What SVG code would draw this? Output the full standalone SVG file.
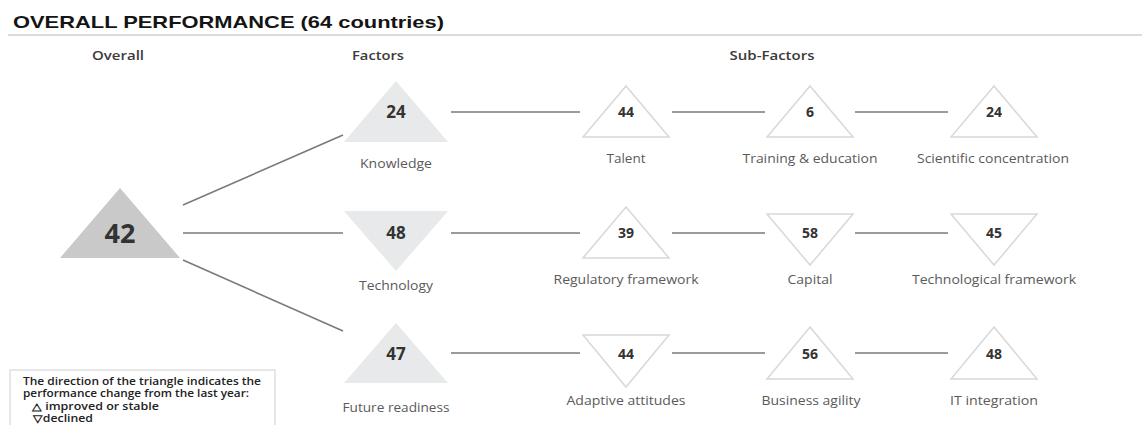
<svg xmlns="http://www.w3.org/2000/svg" width="1142" height="425" viewBox="0 0 1142 425">
<style>
.title{font-family:"Liberation Sans",Arial,sans-serif;font-weight:bold;font-size:17px;fill:#141414}
.hdr{font-family:"Open Sans","Liberation Sans",sans-serif;font-weight:600;font-size:12.5px;fill:#3a3a3a;text-anchor:middle}
.lbl{font-family:"Open Sans","Liberation Sans",sans-serif;font-size:12px;fill:#5a5a5a;text-anchor:middle}
.fnum{font-family:"Open Sans","Liberation Sans",sans-serif;font-weight:bold;font-size:17px;fill:#333;text-anchor:middle}
.snum{font-family:"Open Sans","Liberation Sans",sans-serif;font-weight:bold;font-size:14px;fill:#333;text-anchor:middle}
.onum{font-family:"Open Sans","Liberation Sans",sans-serif;font-weight:bold;font-size:27px;fill:#333;text-anchor:middle}
.ftri{fill:#e8e9ea;stroke:none}
.stri{fill:#fff;stroke:#d8d8d8;stroke-width:1.5}
.conn{stroke:#7a7a7a;stroke-width:1.6;fill:none}
.leg{font-family:"Open Sans","Liberation Sans",sans-serif;font-size:10px;font-weight:600;fill:#222}
</style>
<rect width="1142" height="425" fill="#fff"/>
<text class="title" x="13" y="28" textLength="431" lengthAdjust="spacingAndGlyphs">OVERALL PERFORMANCE  (64 countries)</text>
<line x1="8" y1="35" x2="1142" y2="35" stroke="#cfcfcf" stroke-width="1.5"/>
<text class="hdr" x="118" y="60" textLength="52" lengthAdjust="spacingAndGlyphs">Overall</text>
<text class="hdr" x="378" y="60" textLength="52" lengthAdjust="spacingAndGlyphs">Factors</text>
<text class="hdr" x="772" y="60" textLength="85" lengthAdjust="spacingAndGlyphs">Sub-Factors</text>

<g id="connectors">
<line class="conn" x1="183" y1="205" x2="343" y2="135"/>
<line class="conn" x1="183" y1="233" x2="343" y2="233"/>
<line class="conn" x1="183" y1="260" x2="343" y2="331"/>
<line class="conn" x1="451" y1="112" x2="580" y2="112"/>
<line class="conn" x1="672" y1="112" x2="765" y2="112"/>
<line class="conn" x1="855" y1="112" x2="948" y2="112"/>
<line class="conn" x1="451" y1="233" x2="580" y2="233"/>
<line class="conn" x1="672" y1="233" x2="765" y2="233"/>
<line class="conn" x1="855" y1="233" x2="948" y2="233"/>
<line class="conn" x1="451" y1="353" x2="580" y2="353"/>
<line class="conn" x1="672" y1="353" x2="765" y2="353"/>
<line class="conn" x1="855" y1="353" x2="948" y2="353"/>
</g>

<g id="overall">
<polygon points="120,188 60,258 180,258" fill="#c9c9c9"/>
<text class="onum" x="120" y="243">42</text>
</g>

<g id="knowledge">
<polygon class="ftri" points="396,81 344,142 448,142"/>
<text class="fnum" x="396" y="118">24</text>
<text class="lbl" x="396" y="168" textLength="72" lengthAdjust="spacingAndGlyphs">Knowledge</text>
</g>
<g id="technology">
<polygon class="ftri" points="344,211 448,211 396,271"/>
<text class="fnum" x="396" y="239">48</text>
<text class="lbl" x="396" y="290" textLength="74" lengthAdjust="spacingAndGlyphs">Technology</text>
</g>
<g id="future-readiness">
<polygon class="ftri" points="396,323 344,383 448,383"/>
<text class="fnum" x="396" y="360">47</text>
<text class="lbl" x="396" y="412" textLength="107" lengthAdjust="spacingAndGlyphs">Future readiness</text>
</g>

<g id="talent">
<polygon class="stri" points="626,86 583,137 669,137"/>
<text class="snum" x="626" y="117">44</text>
<text class="lbl" x="626" y="163" textLength="39" lengthAdjust="spacingAndGlyphs">Talent</text>
</g>
<g id="training">
<polygon class="stri" points="810,86 767,137 853,137"/>
<text class="snum" x="810" y="117">6</text>
<text class="lbl" x="810" y="163" textLength="135" lengthAdjust="spacingAndGlyphs">Training &amp; education</text>
</g>
<g id="scientific">
<polygon class="stri" points="994,86 951,137 1037,137"/>
<text class="snum" x="994" y="117">24</text>
<text class="lbl" x="993" y="163" textLength="152" lengthAdjust="spacingAndGlyphs">Scientific concentration</text>
</g>

<g id="regulatory">
<polygon class="stri" points="626,207 583,258 669,258"/>
<text class="snum" x="626" y="238">39</text>
<text class="lbl" x="626" y="284" textLength="145" lengthAdjust="spacingAndGlyphs">Regulatory framework</text>
</g>
<g id="capital">
<polygon class="stri" points="767,214 853,214 810,265"/>
<text class="snum" x="810" y="238">58</text>
<text class="lbl" x="810" y="284" textLength="45" lengthAdjust="spacingAndGlyphs">Capital</text>
</g>
<g id="tech-framework">
<polygon class="stri" points="951,214 1037,214 994,265"/>
<text class="snum" x="994" y="238">45</text>
<text class="lbl" x="994" y="284" textLength="164" lengthAdjust="spacingAndGlyphs">Technological framework</text>
</g>

<g id="adaptive">
<polygon class="stri" points="583,335 669,335 626,387"/>
<text class="snum" x="626" y="359">44</text>
<text class="lbl" x="626" y="405" textLength="119" lengthAdjust="spacingAndGlyphs">Adaptive attitudes</text>
</g>
<g id="business">
<polygon class="stri" points="810,327 767,379 853,379"/>
<text class="snum" x="810" y="359">56</text>
<text class="lbl" x="811" y="405" textLength="99" lengthAdjust="spacingAndGlyphs">Business agility</text>
</g>
<g id="it-integration">
<polygon class="stri" points="994,327 951,379 1037,379"/>
<text class="snum" x="994" y="359">48</text>
<text class="lbl" x="994" y="405" textLength="88" lengthAdjust="spacingAndGlyphs">IT integration</text>
</g>

<g id="legend">
<rect x="10" y="370" width="265" height="60" fill="#fff" stroke="#cfcfcf" stroke-width="1"/>
<text class="leg" x="23" y="385" textLength="238" lengthAdjust="spacingAndGlyphs">The direction of the triangle indicates the</text>
<text class="leg" x="23" y="397" textLength="226" lengthAdjust="spacingAndGlyphs">performance change from the last year:</text>
<text class="leg" x="32" y="410" textLength="127" lengthAdjust="spacingAndGlyphs">△ improved or stable</text>
<text class="leg" x="33" y="422" textLength="60" lengthAdjust="spacingAndGlyphs">▽declined</text>
</g>
</svg>
